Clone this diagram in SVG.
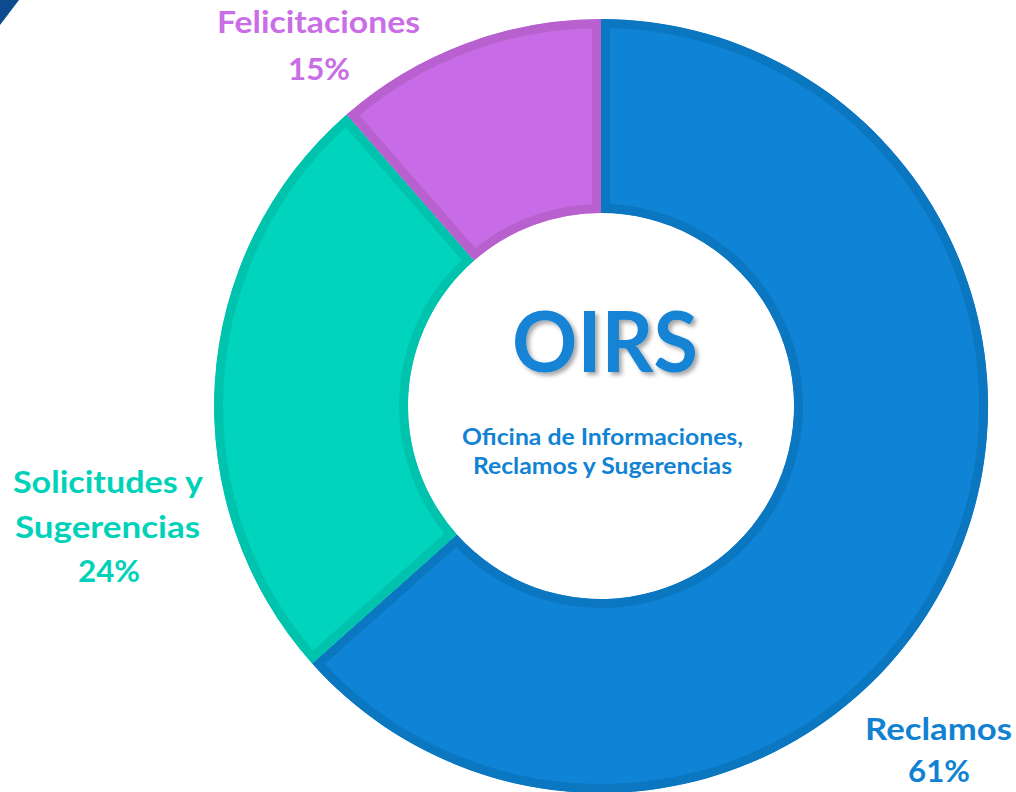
<svg xmlns="http://www.w3.org/2000/svg" width="1016" height="792" viewBox="0 0 1016 792">
  <style>
    .lbl { font-family: Lato, "Open Sans", "Liberation Sans", sans-serif; font-weight: bold; text-anchor: middle; }
    .seg { stroke-width: 18; }
  </style>
  <defs>
    <path id="pBlue" d="M601,19 A387,387 0 1 1 312.1,663.4 L456.9,534.4 A193,193 0 1 0 601,213 Z"/>
    <path id="pTeal" d="M312.1,663.4 A387,387 0 0 1 346.6,114.4 L474.1,260.6 A193,193 0 0 0 456.9,534.4 Z"/>
    <path id="pPurple" d="M346.6,114.4 A387,387 0 0 1 601,19 L601,213 A193,193 0 0 0 474.1,260.6 Z"/>
    <clipPath id="cBlue"><use href="#pBlue"/></clipPath>
    <clipPath id="cTeal"><use href="#pTeal"/></clipPath>
    <clipPath id="cPurple"><use href="#pPurple"/></clipPath>
    <filter id="shadow" x="-20%" y="-20%" width="140%" height="140%">
      <feDropShadow dx="3" dy="3" stdDeviation="2" flood-color="#000" flood-opacity="0.35"/>
    </filter>
  </defs>
  <rect width="1016" height="792" fill="#ffffff"/>
  <polygon points="0,0 19,0 0,25" fill="#0D4A8F"/>

  <g id="reclamos">
    <use href="#pBlue" class="seg" fill="#0F83D5" stroke="#0B77C1" clip-path="url(#cBlue)"/>
    <text class="lbl" x="938.5" y="740" font-size="30" fill="#1182D2" textLength="147" lengthAdjust="spacingAndGlyphs">Reclamos</text>
    <text class="lbl" x="939" y="782" font-size="30" fill="#1182D2" textLength="62" lengthAdjust="spacingAndGlyphs">61%</text>
  </g>
  <g id="solicitudes">
    <use href="#pTeal" class="seg" fill="#00D4BC" stroke="#00C3AD" clip-path="url(#cTeal)"/>
    <text class="lbl" x="108" y="493" font-size="30" fill="#00D2BA" textLength="190" lengthAdjust="spacingAndGlyphs">Solicitudes y</text>
    <text class="lbl" x="107.5" y="538" font-size="30" fill="#00D2BA" textLength="185" lengthAdjust="spacingAndGlyphs">Sugerencias</text>
    <text class="lbl" x="109" y="582" font-size="30" fill="#00D2BA" textLength="62" lengthAdjust="spacingAndGlyphs">24%</text>
  </g>
  <g id="felicitaciones">
    <use href="#pPurple" class="seg" fill="#C76CE6" stroke="#B760CE" clip-path="url(#cPurple)"/>
    <text class="lbl" x="318.5" y="33" font-size="30" fill="#C96EE6" textLength="203" lengthAdjust="spacingAndGlyphs">Felicitaciones</text>
    <text class="lbl" x="319" y="80" font-size="30" fill="#C96EE6" textLength="62" lengthAdjust="spacingAndGlyphs">15%</text>
  </g>
  <g id="centro">
    <text class="lbl" x="605" y="372" font-size="84" fill="#1283D4" filter="url(#shadow)" textLength="186" lengthAdjust="spacingAndGlyphs">OIRS</text>
    <text class="lbl" x="602.5" y="445" font-size="23" fill="#1283D4" textLength="281" lengthAdjust="spacingAndGlyphs">Oficina de Informaciones,</text>
    <text class="lbl" x="602.5" y="474" font-size="23" fill="#1283D4" textLength="259" lengthAdjust="spacingAndGlyphs">Reclamos y Sugerencias</text>
  </g>
  <g id="connectors"></g>
</svg>
